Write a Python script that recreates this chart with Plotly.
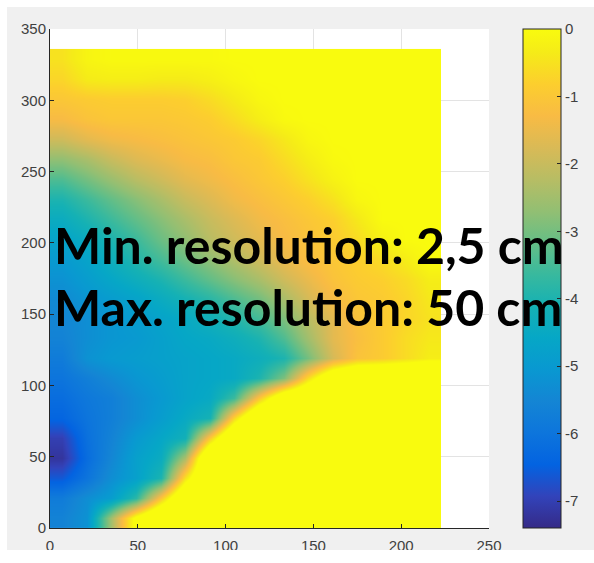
import plotly.graph_objects as go

# ---- data ----
# grid-cell centres (cm) of the depth raster; raster spans x 0-223, y 0-336
x_cm = [7, 21, 35, 49, 63, 77, 91, 105, 119, 133, 147, 161, 175, 189, 203, 216]
y_cm = [7, 21, 35, 49, 63, 77, 91, 105, 119, 133, 147, 161, 175, 189, 203,
        217, 231, 245, 259, 273, 287, 301, 315, 329]

# depth values (positive = dry, shown clipped at 0), one list per y row
row_007 = [-5.6, -5.2, -2.5, 0.3, 2, 2, 2, 2, 2, 2, 2, 2, 2, 2, 2, 2]
row_021 = [-5.8, -5.3, -4.9, -3.8, -1.0, 1.7, 2, 2, 2, 2, 2, 2, 2, 2, 2, 2]
row_035 = [-6.6, -6.0, -5.3, -4.8, -4.0, -0.5, 2, 2, 2, 2, 2, 2, 2, 2, 2, 2]
row_049 = [-7.2, -6.2, -5.5, -4.8, -4.4, -2.4, 2, 2, 2, 2, 2, 2, 2, 2, 2, 2]
row_063 = [-7.0, -6.1, -5.6, -5.0, -4.6, -4.2, -0.9, 2, 2, 2, 2, 2, 2, 2, 2, 2]
row_077 = [-6.4, -6.0, -5.7, -5.3, -4.9, -4.5, -4.1, -0.7, 2, 2, 2, 2, 2, 2, 2, 2]
row_091 = [-6.2, -5.9, -5.7, -5.3, -5.0, -4.7, -4.5, -3.6, -1.0, 1.3, 2, 2, 2, 2, 2, 2]
row_105 = [-6.0, -5.7, -5.4, -5.1, -4.9, -4.7, -4.6, -4.5, -4.0, -2.9, -0.6, 1.3, 2, 2, 2, 2]
row_119 = [-5.8, -5.2, -5.0, -4.9, -4.8, -4.7, -4.6, -4.5, -4.3, -4.0, -3.0, -1.8, -1.1, -0.9, -0.6, -0.3]
row_133 = [-5.6, -5.3, -5.1, -5.0, -4.8, -4.6, -4.5, -4.3, -4.0, -3.4, -2.5, -1.6, -1.2, -0.9, -0.6, -0.4]
row_147 = [-5.5, -5.3, -5.1, -4.9, -4.7, -4.5, -4.2, -3.9, -3.5, -2.9, -2.2, -1.6, -1.1, -0.9, -0.7, -0.5]
row_161 = [-5.4, -5.1, -4.9, -4.7, -4.4, -4.1, -3.8, -3.4, -3.0, -2.4, -1.8, -1.3, -1.0, -0.9, -0.7, -0.4]
row_175 = [-5.2, -4.9, -4.6, -4.3, -4.0, -3.6, -3.2, -2.8, -2.4, -1.9, -1.5, -1.1, -0.9, -0.8, -0.6, -0.3]
row_189 = [-5.0, -4.7, -4.3, -3.9, -3.5, -3.1, -2.7, -2.3, -1.9, -1.5, -1.2, -1.0, -0.8, -0.6, -0.3, 0]
row_203 = [-4.7, -4.4, -4.0, -3.6, -3.1, -2.7, -2.2, -1.9, -1.6, -1.3, -1.1, -0.9, -0.6, -0.2, 0, 0]
row_217 = [-4.4, -4.0, -3.6, -3.2, -2.8, -2.4, -2.0, -1.7, -1.4, -1.2, -1.0, -0.8, -0.4, 0, 0, 0]
row_231 = [-4.0, -3.6, -3.2, -2.8, -2.4, -2.0, -1.7, -1.4, -1.2, -1.0, -0.8, -0.5, -0.1, 0, 0, 0]
row_245 = [-3.4, -3.0, -2.6, -2.2, -1.9, -1.6, -1.4, -1.2, -1.0, -0.8, -0.5, -0.2, 0, 0, 0, 0]
row_259 = [-2.7, -2.4, -2.0, -1.7, -1.5, -1.3, -1.2, -1.0, -0.9, -0.6, -0.3, -0.05, 0, 0, 0, 0]
row_273 = [-1.9, -1.6, -1.4, -1.3, -1.2, -1.1, -1.0, -0.9, -0.7, -0.4, -0.1, 0, 0, 0, 0, 0]
row_287 = [-1.3, -1.1, -1.0, -1.0, -1.0, -0.95, -0.85, -0.6, -0.3, -0.05, 0, 0, 0, 0, 0, 0]
row_301 = [-1.0, -0.9, -0.85, -0.85, -0.85, -0.8, -0.6, -0.35, -0.1, 0, 0, 0, 0, 0, 0, 0]
row_315 = [-0.7, -0.35, -0.3, -0.3, -0.35, -0.35, -0.25, -0.1, 0, 0, 0, 0, 0, 0, 0, 0]
row_329 = [-0.5, -0.15, -0.05, -0.05, -0.05, -0.05, -0.05, 0, 0, 0, 0, 0, 0, 0, 0, 0]

depth = [row_007, row_021, row_035, row_049, row_063, row_077, row_091, row_105,
         row_119, row_133, row_147, row_161, row_175, row_189, row_203, row_217,
         row_231, row_245, row_259, row_273, row_287, row_301, row_315, row_329]

cbar_ticks = [0, -1, -2, -3, -4, -5, -6, -7]
cbar_labels = ["0", "-1", "-2", "-3", "-4", "-5", "-6", "-7"]
x_ticks = [0, 50, 100, 150, 200, 250]
y_ticks = [0, 50, 100, 150, 200, 250, 300, 350]
line1 = "Min. resolution: 2,5 cm"
line2 = "Max. resolution: 50 cm"

# MATLAB parula colormap (sampled)
parula_rgb = [
    (0.2081, 0.1663, 0.5292), (0.1959, 0.2645, 0.7279), (0.0117, 0.3875, 0.8820),
    (0.0498, 0.4586, 0.8641), (0.0793, 0.5200, 0.8312), (0.0343, 0.5966, 0.8199),
    (0.0228, 0.6535, 0.7768), (0.0843, 0.6928, 0.7062), (0.2178, 0.7250, 0.6193),
    (0.3953, 0.7459, 0.5244), (0.5709, 0.7485, 0.4494), (0.7184, 0.7411, 0.3905),
    (0.8507, 0.7299, 0.3360), (0.9739, 0.7314, 0.2666), (0.9880, 0.8066, 0.1794),
    (0.9598, 0.9218, 0.0948), (0.9763, 0.9831, 0.0538)]
parula_pos = [0, 4, 8, 12, 16, 20, 24, 28, 32, 36, 40, 44, 48, 52, 56, 60, 63]
colorscale = [[p / 63, "rgb(%d,%d,%d)" % tuple(round(c * 255) for c in rgb)]
              for p, rgb in zip(parula_pos, parula_rgb)]

# ---- figure ----
L, R, T, B = 50, 105, 29, 35
W, H = 594, 563
pw, ph = W - L - R, H - T - B

fig = go.Figure()
fig.add_trace(go.Heatmap(
    x=x_cm, y=y_cm, z=depth,
    zmin=-7.4, zmax=0, zsmooth="best",
    colorscale=colorscale,
    colorbar=dict(
        x=(523 - L) / pw, xanchor="left", y=0.5, yanchor="middle",
        len=1, lenmode="fraction", thickness=38, thicknessmode="pixels",
        xpad=0, ypad=0,
        outlinecolor="#262626", outlinewidth=1,
        tickvals=cbar_ticks, ticktext=cbar_labels,
        ticks="inside", ticklen=4, tickcolor="#262626",
        tickfont=dict(family="Liberation Sans, Arial", size=15, color="#404040"),
    ),
    hoverinfo="skip",
))

axis_common = dict(
    showgrid=True, gridcolor="#e3e3e3", gridwidth=1,
    showline=True, linecolor="#262626", linewidth=1,
    ticks="inside", ticklen=4, tickcolor="#262626",
    zeroline=False,
    tickfont=dict(family="Liberation Sans, Arial", size=15, color="#404040"),
)
fig.update_xaxes(range=[0, 250], tickvals=x_ticks, ticklabelstandoff=4, **axis_common)
fig.update_yaxes(range=[0, 350], tickvals=y_ticks, **axis_common)

for text, ypos in [(line1, (528 - 245) / ph), (line2, (528 - 307) / ph)]:
    fig.add_annotation(
        text="<b>" + text + "</b>", xref="paper", yref="paper",
        x=(52 - L) / pw, y=ypos, xanchor="left", yanchor="middle",
        showarrow=False,
        font=dict(family="Lato", size=50, color="black"),
    )

# white outer margins around the grey figure background
def px_x(p):
    return (p - L) / pw

def px_y(p):
    return (528 - p) / ph

white = dict(type="rect", xref="paper", yref="paper", fillcolor="white",
             line=dict(width=0), layer="above")
fig.add_shape(x0=px_x(-5), x1=px_x(7), y0=px_y(570), y1=px_y(-5), **white)
fig.add_shape(x0=px_x(-5), x1=px_x(600), y0=px_y(7), y1=px_y(-5), **white)
fig.add_shape(x0=px_x(-5), x1=px_x(600), y0=px_y(570), y1=px_y(550), **white)

fig.update_layout(
    width=W, height=H,
    margin=dict(l=L, r=R, t=T, b=B, pad=0, autoexpand=False),
    paper_bgcolor="#f0f0f0", plot_bgcolor="white",
    showlegend=False,
)

fig.write_html("out.html")
